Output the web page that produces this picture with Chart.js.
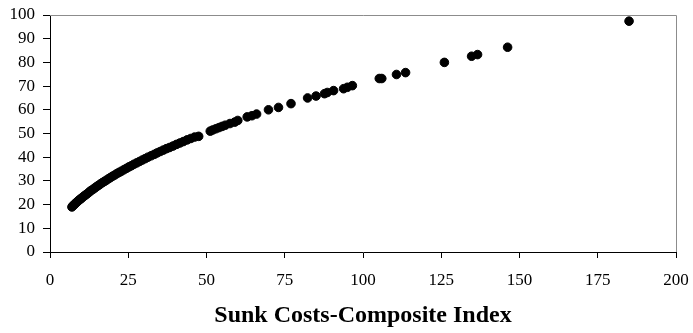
<!DOCTYPE html>
<html>
<head>
<meta charset="utf-8">
<script src="https://cdn.jsdelivr.net/npm/chart.js@4/dist/chart.umd.min.js"></script>
<style>
  html, body { margin: 0; padding: 0; background: #fff; }
  #wrap { width: 693px; height: 333px; }
</style>
</head>
<body>
<div id="wrap"><canvas id="scatterChart" width="693" height="333"></canvas></div>
<script>
// valores (índice composto de custos irrecuperáveis)
const sunkCosts = [
    7.0, 7.3, 7.6, 7.9, 8.2, 8.5, 8.8, 9.2, 9.6, 10.0,
    10.4, 10.9, 11.3, 11.8, 12.3, 12.8, 13.3, 13.9, 14.4, 15.0,
    15.6, 16.2, 16.8, 17.4, 18.0, 18.7, 19.3, 20.0, 20.7, 21.4,
    22.1, 22.8, 23.6, 24.4, 25.2, 26.0, 26.8, 27.7, 28.6, 29.5,
    30.4, 31.3, 32.3, 33.3, 34.2, 35.2, 36.2, 37.2, 38.2, 39.3,
    40.4, 41.5, 42.6, 43.8, 45.0, 46.2, 47.5,
    51.2, 52.0, 53.0, 54.0, 55.0, 56.0, 57.5, 59.0, 60.0,
    63.0, 64.5, 66.0, 69.8, 73.0, 77.0, 82.3, 85.0, 87.7, 88.6,
    90.6, 93.8, 95.0, 96.6, 105.2, 106.0, 110.7, 113.6, 126.0, 134.7,
    136.6, 146.2, 185.0
];
const scores = [
    19.0, 19.5, 19.8, 20.2, 20.6, 21.0, 21.3, 21.8, 22.2, 22.6,
    23.1, 23.6, 24.0, 24.5, 25.0, 25.6, 26.1, 26.6, 27.1, 27.7,
    28.2, 28.8, 29.3, 29.8, 30.3, 30.9, 31.4, 32.0, 32.5, 33.1,
    33.6, 34.1, 34.7, 35.3, 35.9, 36.4, 37.0, 37.6, 38.2, 38.8,
    39.4, 40.0, 40.6, 41.2, 41.8, 42.4, 43.0, 43.6, 44.1, 44.7,
    45.4, 46.0, 46.6, 47.3, 47.9, 48.5, 48.8,
    51.0, 51.5, 52.0, 52.5, 53.0, 53.5, 54.2, 54.8, 55.5,
    57.0, 57.5, 58.2, 60.0, 61.0, 62.6, 65.0, 65.8, 66.8, 67.3,
    68.1, 68.9, 69.5, 70.2, 73.2, 73.2, 74.9, 75.7, 80.0, 82.6,
    83.3, 86.4, 97.4
];
const xTicks = [0, 25, 50, 75, 100, 125, 150, 175, 200];
const yTicks = [0, 10, 20, 30, 40, 50, 60, 70, 80, 90, 100];
const xTitle = 'Sunk Costs-Composite Index';

const pontos = sunkCosts.map(function(x, i) {
    return { x: x, y: scores[i] };
});

// moldura cinza em cima e à direita
const frame = {
    id: 'frame',
    afterDraw: function(chart) {
        const a = chart.chartArea;
        const ctx = chart.ctx;
        ctx.save();
        ctx.strokeStyle = '#8c8c8c';
        ctx.lineWidth = 1;
        ctx.beginPath();
        ctx.moveTo(a.left, a.top + 0.5);
        ctx.lineTo(a.right + 0.5, a.top + 0.5);
        ctx.lineTo(a.right + 0.5, a.bottom);
        ctx.stroke();
        ctx.restore();
    }
};

const serif = "'Liberation Serif', 'Times New Roman', serif";

new Chart(document.getElementById('scatterChart').getContext('2d'), {
    type: 'scatter',
    data: {
        datasets: [{
            data: pontos,
            backgroundColor: '#000',
            borderColor: '#000',
            pointRadius: 4.3,
            pointHoverRadius: 4.3
        }]
    },
    options: {
        responsive: false,
        animation: false,
        layout: { padding: { top: 15, right: 17, left: 0, bottom: 0 } },
        plugins: {
            legend: { display: false },
            tooltip: { enabled: false }
        },
        scales: {
            x: {
                type: 'linear',
                min: 0,
                max: 200,
                afterBuildTicks: function(scale) {
                    scale.ticks = xTicks.map(function(v) { return { value: v }; });
                },
                afterFit: function(scale) {
                    scale.height = 81;
                    scale.paddingLeft = 0;
                    scale.paddingRight = 0;
                },
                grid: { display: true, drawOnChartArea: false, drawTicks: true, tickLength: 6, color: '#000' },
                border: { display: true, color: '#000', width: 1 },
                ticks: { color: '#000', padding: 12, maxRotation: 0, autoSkip: false, font: { family: serif, size: 17 } },
                title: {
                    display: true,
                    text: xTitle,
                    color: '#000',
                    font: { family: serif, size: 24, weight: 'bold' },
                    padding: { top: 0, bottom: 3 }
                }
            },
            y: {
                type: 'linear',
                min: 0,
                max: 100,
                afterBuildTicks: function(scale) {
                    scale.ticks = yTicks.map(function(v) { return { value: v }; });
                },
                afterFit: function(scale) {
                    scale.width = 50;
                    scale.paddingTop = 0;
                    scale.paddingBottom = 0;
                },
                grid: { display: true, drawOnChartArea: false, drawTicks: true, tickLength: 7, color: '#000' },
                border: { display: true, color: '#000', width: 1 },
                ticks: { color: '#000', padding: 8, autoSkip: false, font: { family: serif, size: 17 } }
            }
        }
    },
    plugins: [frame]
});
</script>
</body>
</html>
